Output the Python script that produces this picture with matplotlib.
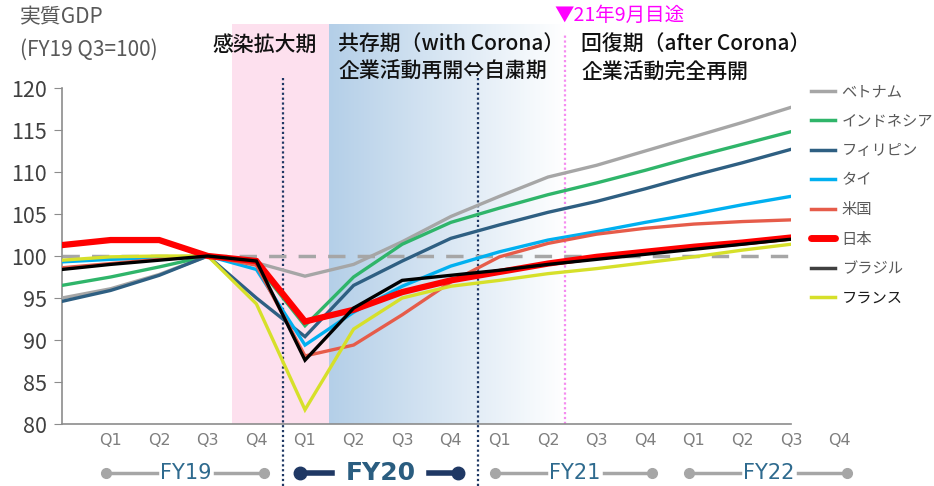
import numpy as np
import matplotlib
matplotlib.use("Agg")
import matplotlib.pyplot as plt
from matplotlib.patches import Rectangle
from matplotlib.colors import LinearSegmentedColormap
from matplotlib.lines import Line2D

plt.rcParams['font.family'] = ['Noto Sans CJK JP', 'DejaVu Sans']

# --- data (FY18 Q4 .. FY22 Q3) ---
quarters = ['Q1', 'Q2', 'Q3', 'Q4'] * 4
fiscal_years = ['FY19', 'FY20', 'FY21', 'FY22']
names = ['ベトナム', 'インドネシア', 'フィリピン', 'タイ', '米国', '日本', 'ブラジル', 'フランス']
vietnam = [95.0, 96.1, 97.8, 100, 99.2, 97.6, 99.0, 101.7, 104.7, 107.1, 109.4, 110.8, 112.5, 114.2, 115.9, 117.7]
indonesia = [96.5, 97.5, 98.7, 100, 99.0, 91.7, 97.5, 101.4, 104.0, 105.7, 107.3, 108.7, 110.2, 111.8, 113.3, 114.8]
philippines = [94.6, 95.9, 97.7, 100, 95.0, 90.4, 96.5, 99.4, 102.1, 103.7, 105.2, 106.5, 108.0, 109.6, 111.1, 112.7]
thailand = [99.3, 99.6, 99.8, 100, 98.4, 89.4, 93.3, 96.4, 98.8, 100.5, 101.9, 102.9, 104.0, 105.0, 106.1, 107.1]
usa = [98.6, 99.1, 99.6, 100, 98.9, 88.1, 89.4, 93.0, 96.9, 99.9, 101.5, 102.6, 103.3, 103.8, 104.1, 104.3]
japan = [101.3, 101.9, 101.9, 100, 99.4, 92.2, 93.6, 95.7, 97.1, 98.1, 99.1, 99.9, 100.5, 101.1, 101.6, 102.2]
brazil = [98.4, 99.0, 99.5, 100, 99.4, 87.6, 93.8, 97.1, 97.7, 98.3, 99.0, 99.6, 100.2, 100.8, 101.4, 102.0]
france = [99.5, 99.9, 100.0, 100, 94.3, 81.7, 91.3, 95.0, 96.4, 97.1, 97.9, 98.5, 99.2, 99.9, 100.7, 101.4]

series = [vietnam, indonesia, philippines, thailand, usa, france, japan, brazil]
labels = ['ベトナム', 'インドネシア', 'フィリピン', 'タイ', '米国', 'フランス', '日本', 'ブラジル']
colors = ['#a6a6a6', '#2fb56a', '#2e5f82', '#00b0f0', '#e65c4a', '#d6e02a', '#ff0000', '#000000']
widths = [2.4, 2.4, 2.4, 2.4, 2.4, 2.4, 4.5, 2.4]

fig = plt.figure(figsize=(9.34, 4.86), dpi=100)
ax = fig.add_axes([62 / 934, 1 - 424 / 486, 729 / 934, 336 / 486])

# shaded phases
ax.add_patch(Rectangle((3.5, 80), 2.0, 47.6, facecolor='#fde0ee', edgecolor='none',
                       zorder=0, clip_on=False))
grad = np.linspace(0, 1, 256).reshape(1, -1)
cmap = LinearSegmentedColormap.from_list('fade', ['#b4cfe8', '#ffffff'])
im = ax.imshow(grad, extent=[5.5, 10.35, 80, 127.6], aspect='auto', cmap=cmap,
               zorder=0, interpolation='bilinear')
im.set_clip_on(False)

# vertical markers
for xv in [4.55, 8.55]:
    ax.plot([xv, xv], [72.6, 121.2], color='#1f3864', lw=1.6, ls=(0, (1, 1.2)),
            clip_on=False, zorder=1)
ax.plot([10.35, 10.35], [80, 126.5], color='#f58cf0', lw=1.6, ls=(0, (1, 1.2)),
        clip_on=False, zorder=1)

ax.axhline(100, color='#a6a6a6', lw=2.5, ls=(0, (5, 3.5)), zorder=2)

x = np.arange(len(japan))
for ys, c, w, lab in zip(series, colors, widths, labels):
    ax.plot(x, ys, color=c, lw=w, label=lab, zorder=3, solid_joinstyle='miter')

ax.set_xlim(0, 15)
ax.set_ylim(80, 120)
ax.set_yticks(range(80, 121, 5))
ax.set_xticks([])
for s in ['top', 'right']:
    ax.spines[s].set_visible(False)
for s in ['left', 'bottom']:
    ax.spines[s].set_color('#8c8c8c')
    ax.spines[s].set_linewidth(1.2)
ax.tick_params(axis='y', direction='out', length=6, color='#8c8c8c', labelsize=15.5,
               labelcolor='#404040', pad=5)

# quarter labels
xt = ax.get_xaxis_transform()
for i, q in enumerate(quarters):
    ax.text(i + 1, -0.048, q, transform=xt, ha='center', va='center', fontsize=11.5,
            color='#7f7f7f', family=['Liberation Sans Narrow', 'DejaVu Sans'], clip_on=False)

# fiscal year bands
for k, fy in enumerate(fiscal_years):
    x0, x1, xc = 4 * k + 0.9, 4 * k + 4.15, 4 * k + 2.55
    if fy == 'FY20':
        col, lw, fs, wt, gap, ms = '#1f3864', 4, 18, 'bold', 1.0, 9
        tcol = '#2a5d80'
    else:
        col, lw, fs, wt, gap, ms = '#a6a6a6', 2.5, 15, 'normal', 0.6, 7
        tcol = '#2e6a8e'
    ax.plot([x0, xc - gap], [-0.146, -0.146], transform=xt, color=col, lw=lw, clip_on=False)
    ax.plot([xc + gap, x1], [-0.146, -0.146], transform=xt, color=col, lw=lw, clip_on=False)
    ax.plot([x0, x1], [-0.146, -0.146], transform=xt, ls='none', marker='o', ms=ms,
            color=col, clip_on=False)
    ax.text(xc, -0.146, fy, transform=xt, ha='center', va='center', fontsize=fs,
            fontweight=wt, color=tcol, family=['Liberation Sans Narrow', 'DejaVu Sans'])

# phase headings
hk = dict(transform=xt, fontsize=15, color='#111111', va='center', fontweight='medium')
ax.text(4.17, 1.128, '感染拡大期', ha='center', **hk)
ax.text(5.68, 1.128, '共存期（with Corona）', ha='left', **hk)
ax.text(5.68, 1.048, '企業活動再開⇔自粛期', ha='left', **hk)
ax.text(10.68, 1.128, '回復期（after Corona）', ha='left', **hk)
ax.text(10.68, 1.048, '企業活動完全再開', ha='left', **hk)
ax.text(10.14, 1.217, '▼21年9月目途', ha='left', transform=xt, fontsize=14,
        color='#ff00ff', va='center')

# axis title
fig.text(20 / 934, 1 - 17 / 486, '実質GDP', fontsize=15, color='#595959', va='center')
fig.text(20 / 934, 1 - 50 / 486, '(FY19 Q3=100)', fontsize=15, color='#595959', va='center')

# legend
handles = [Line2D([], [], color='#a6a6a6', lw=2.5),
           Line2D([], [], color='#2fb56a', lw=2.5),
           Line2D([], [], color='#2e5f82', lw=2.5),
           Line2D([], [], color='#00b0f0', lw=2.5),
           Line2D([], [], color='#e65c4a', lw=2.5),
           Line2D([], [], color='#ff0000', lw=5, solid_capstyle='round'),
           Line2D([], [], color='#404040', lw=2.5),
           Line2D([], [], color='#d6e02a', lw=2.5)]
leg = fig.legend(handles, names, loc='upper left', bbox_to_anchor=(811 / 934, 1 - 83 / 486),
                 frameon=False, fontsize=11, handlelength=1.6, handletextpad=0.4,
                 labelspacing=0.82, borderaxespad=0, borderpad=0)
for t in leg.get_texts():
    t.set_color('#595959')
leg.get_texts()[-1].set_color('#1a1a1a')

fig.savefig('out.png', dpi=100)
